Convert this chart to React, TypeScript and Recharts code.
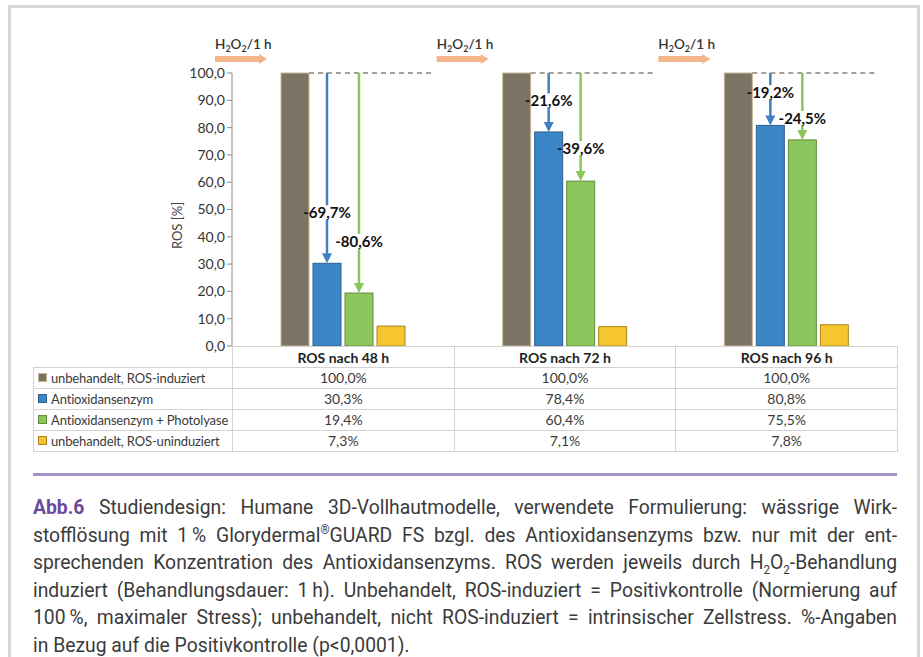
import { Bar, ComposedChart, XAxis, YAxis } from "recharts";

// ROS level (% of positive control) per time point, four treatment groups.
const categories = ["ROS nach 48 h", "ROS nach 72 h", "ROS nach 96 h"];
const seriesNames = [
  "unbehandelt, ROS-induziert",
  "Antioxidansenzym",
  "Antioxidansenzym + Photolyase",
  "unbehandelt, ROS-uninduziert",
];
const induced = [100.0, 100.0, 100.0];
const enzyme = [30.3, 78.4, 80.8];
const enzymePhotolyase = [19.4, 60.4, 75.5];
const uninduced = [7.3, 7.1, 7.8];
const yTicks = [0, 10, 20, 30, 40, 50, 60, 70, 80, 90, 100];

// where the drop labels sit (in % units), hand-placed like in the original
const enzymeLabelAt = [49, 90, 93];
const photoLabelAt = [38.5, 72.5, 83.5];

const colors = [
  { fill: "#7b7464", stroke: "#c8b795" },
  { fill: "#3b86c6", stroke: "#2c5f8e" },
  { fill: "#8dc65c", stroke: "#628f3d" },
  { fill: "#f6c62e", stroke: "#a9861f" },
];
const arrowColors = ["#3f80c0", "#8cc65a"];

const fmt = (v: number) => v.toFixed(1).replace(".", ",");

const data = categories.map((cat, i) => ({
  cat,
  induced: induced[i],
  enzyme: enzyme[i],
  photo: enzymePhotolyase[i],
  uninduced: uninduced[i],
}));
const tableRows = [induced, enzyme, enzymePhotolyase, uninduced];

const FONT = "Lato, 'Open Sans', sans-serif";
const CHART_W = 923;
const CHART_H = 362;
const PLOT_L = 232;
const PLOT_R = 897;
const PLOT_B = 346;
const TABLE_L = 33;
const CAPTION_SCALE = 0.92;

function Stimulus({ x, y }: { x: number; y: number }) {
  // "H2O2/1 h" with the orange block arrow underneath
  return (
    <g>
      <text x={x} y={y} fontFamily={FONT} fontSize={13.5} fontWeight={600} fill="#333">
        H<tspan dy={3} fontSize={9}>2</tspan>
        <tspan dy={-3}>O</tspan>
        <tspan dy={3} fontSize={9}>2</tspan>
        <tspan dy={-3}>/1 h</tspan>
      </text>
      <path
        d={`M${x},${y + 7} L${x + 44},${y + 7} L${x + 44},${y + 5} L${x + 52},${y + 10} L${x + 44},${y + 15} L${x + 44},${y + 13} L${x},${y + 13} Z`}
        fill="#f5b58b"
      />
    </g>
  );
}

function InducedShape(props: any) {
  const { x, y, width, height } = props;
  return (
    <g>
      <rect x={x} y={y} width={width} height={height} fill={colors[0].fill} stroke={colors[0].stroke} strokeWidth={1} />
      <line
        x1={x + width}
        x2={x + 150}
        y1={y}
        y2={y}
        stroke="#8a8172"
        strokeWidth={1.5}
        strokeDasharray="5 4"
      />
      <Stimulus x={x - 66} y={y - 24} />
    </g>
  );
}

function makeDropShape(si: number, labelAt: number[]) {
  return function DropShape(props: any) {
    const { x, y, width, height, index } = props;
    const raw = props.value;
    const v = Array.isArray(raw) ? raw[1] - raw[0] : raw;
    const base = y + height;
    const toY = (d: number) => base - (height * d) / v;
    const cx = x + width / 2;
    const y100 = toY(100);
    const ly = toY(labelAt[index]);
    const c = arrowColors[si - 1];
    return (
      <g>
        <rect x={x} y={y} width={width} height={height} fill={colors[si].fill} stroke={colors[si].stroke} strokeWidth={1} />
        <line x1={cx} x2={cx} y1={y100} y2={y - 9} stroke={c} strokeWidth={2.5} />
        <path d={`M${cx - 5},${y - 10} L${cx + 5},${y - 10} L${cx},${y} Z`} fill={c} />
        <rect x={cx - 7} y={ly - 7} width={14} height={14} fill="#fff" />
        <text
          x={cx}
          y={ly}
          textAnchor="middle"
          dominantBaseline="central"
          fontFamily={FONT}
          fontSize={15}
          fontWeight={700}
          fill="#111"
        >
          {fmt(v - 100)}%
        </text>
      </g>
    );
  };
}

const EnzymeShape = makeDropShape(1, enzymeLabelAt);
const PhotoShape = makeDropShape(2, photoLabelAt);

function ValueTable() {
  const colW = (PLOT_R - PLOT_L) / categories.length;
  const labelW = PLOT_L - TABLE_L;
  const headH = 21;
  const rowH = 20.9;
  const border = "1px solid #d3d3d3";
  const cell = {
    position: "absolute" as const,
    boxSizing: "border-box" as const,
    display: "flex",
    alignItems: "center",
    whiteSpace: "nowrap" as const,
    fontFamily: FONT,
    fontSize: 14,
    color: "#3a3a3a",
  };
  return (
    <div style={{ position: "absolute", left: 0, top: PLOT_B }}>
      {categories.map((c, ci) => (
        <div
          key={c}
          style={{
            ...cell,
            left: PLOT_L + ci * colW,
            top: 0,
            width: colW + 1,
            height: headH + 1,
            border,
            justifyContent: "center",
            fontWeight: 700,
            color: "#222",
          }}
        >
          {c}
        </div>
      ))}
      {seriesNames.map((name, ri) => (
        <div key={name}>
          <div
            style={{
              ...cell,
              left: TABLE_L,
              top: headH + ri * rowH,
              width: labelW + 1,
              height: rowH + 1,
              border,
              paddingLeft: 4,
              fontSize: 13,
              letterSpacing: -0.15,
            }}
          >
            <span
              style={{
                display: "inline-block",
                flex: "none",
                width: 7,
                height: 7,
                marginRight: 4,
                background: colors[ri].fill,
                border: `1px solid ${colors[ri].stroke}`,
              }}
            />
            {name}
          </div>
          {tableRows[ri].map((v, ci) => (
            <div
              key={ci}
              style={{
                ...cell,
                left: PLOT_L + ci * colW,
                top: headH + ri * rowH,
                width: colW + 1,
                height: rowH + 1,
                border,
                justifyContent: "center",
              }}
            >
              {fmt(v)}%
            </div>
          ))}
        </div>
      ))}
    </div>
  );
}

const small = { fontSize: "0.6em", lineHeight: 0 };

const captionLines = [
  <>
    <b style={{ color: "#6a4a9c" }}>Abb.6</b> Studiendesign: Humane 3D-Vollhautmodelle, verwendete Formulierung: wässrige Wirk-
  </>,
  <>
    stofflösung mit 1&#8201;% Glorydermal<sup style={small}>®</sup>GUARD FS bzgl. des Antioxidansenzyms bzw. nur mit der ent-
  </>,
  <>
    sprechenden Konzentration des Antioxidansenzyms. ROS werden jeweils durch H<sub style={small}>2</sub>O
    <sub style={small}>2</sub>-Behandlung
  </>,
  <>induziert (Behandlungsdauer: 1&#8201;h). Unbehandelt, ROS-induziert = Positivkontrolle (Normierung auf</>,
  <>100&#8201;%, maximaler Stress); unbehandelt, nicht ROS-induziert = intrinsischer Zellstress. %-Angaben</>,
  <>in Bezug auf die Positivkontrolle (p&lt;0,0001).</>,
];

export default function App() {
  const capW = PLOT_R - TABLE_L;
  return (
    <div style={{ position: "relative", width: 923, height: 657, overflow: "hidden", background: "#fff" }}>
      <style>{"body{margin:0}"}</style>
      <div
        style={{
          position: "absolute",
          left: 8,
          top: 5,
          width: 906,
          height: 660,
          border: "3px solid #d7d7d7",
          borderBottom: "none",
        }}
      />
      <div style={{ position: "absolute", left: 0, top: 0 }}>
        <ComposedChart
          width={CHART_W}
          height={CHART_H}
          data={data}
          margin={{ top: 73, right: CHART_W - PLOT_R, bottom: CHART_H - PLOT_B, left: 0 }}
          barSize={28}
          barGap={4}
        >
          <XAxis dataKey="cat" hide />
          <YAxis
            width={PLOT_L}
            domain={[0, 100]}
            ticks={yTicks}
            interval={0}
            tickFormatter={fmt}
            tick={{ fill: "#333", fontSize: 14, fontFamily: FONT }}
            tickSize={5}
            axisLine={{ stroke: "#8c8c8c" }}
            tickLine={{ stroke: "#8c8c8c" }}
            label={({ viewBox }: any) => {
              const lx = viewBox.x + viewBox.width - 55;
              const ly = viewBox.y + viewBox.height / 2 + 16;
              return (
                <text
                  x={lx}
                  y={ly}
                  transform={`rotate(-90, ${lx}, ${ly})`}
                  textAnchor="middle"
                  dominantBaseline="central"
                  fontFamily={FONT}
                  fontSize={13}
                  fill="#444"
                >
                  ROS [%]
                </text>
              );
            }}
          />
          <Bar dataKey="induced" name={seriesNames[0]} shape={InducedShape} isAnimationActive={false} />
          <Bar dataKey="enzyme" name={seriesNames[1]} shape={EnzymeShape} isAnimationActive={false} />
          <Bar dataKey="photo" name={seriesNames[2]} shape={PhotoShape} isAnimationActive={false} />
          <Bar
            dataKey="uninduced"
            name={seriesNames[3]}
            fill={colors[3].fill}
            stroke={colors[3].stroke}
            strokeWidth={1}
            isAnimationActive={false}
          />
        </ComposedChart>
      </div>
      <ValueTable />
      <div style={{ position: "absolute", left: TABLE_L, top: 473, width: capW, height: 3, background: "#a592c9" }} />
      <div
        style={{
          position: "absolute",
          left: TABLE_L,
          top: 494,
          width: capW / CAPTION_SCALE,
          transform: `scaleX(${CAPTION_SCALE})`,
          transformOrigin: "0 0",
          fontFamily: "Roboto, sans-serif",
          fontSize: 21,
          lineHeight: "27.6px",
          color: "#3b3b3b",
        }}
      >
        {captionLines.map((line, i) => {
          const last = i === captionLines.length - 1;
          return (
            <div
              key={i}
              style={{
                textAlign: last ? "left" : "justify",
                textAlignLast: last ? "left" : "justify",
                height: 27.6,
                overflow: "visible",
              }}
            >
              {line}
            </div>
          );
        })}
      </div>
    </div>
  );
}
